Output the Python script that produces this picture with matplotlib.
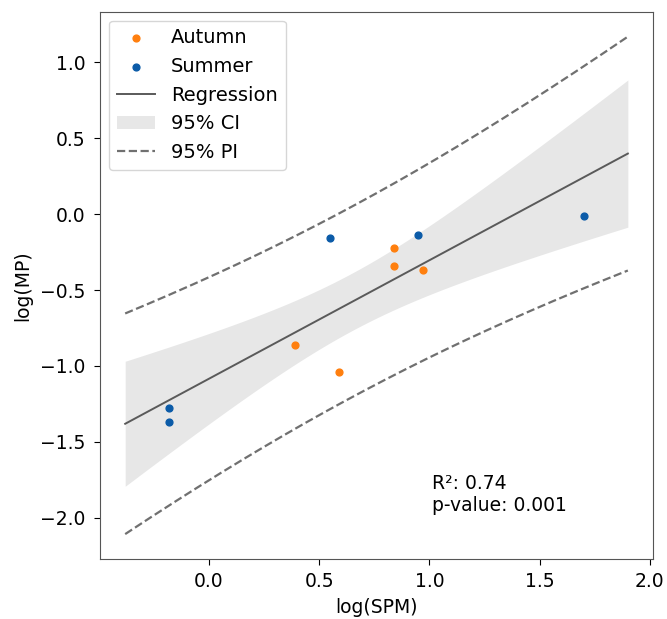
import numpy as np
import matplotlib
matplotlib.use("Agg")
import matplotlib.pyplot as plt

# data (log values)
autumn_x = [0.39, 0.59, 0.84, 0.84, 0.97]
autumn_y = [-0.86, -1.04, -0.22, -0.34, -0.37]
summer_x = [0.55, 0.95, 1.70, -0.18, -0.18]
summer_y = [-0.16, -0.14, -0.01, -1.28, -1.37]
r2_text = "R²: 0.74\np-value: 0.001"

T_975 = 2.306  # t quantile, df = 8

x = np.array(autumn_x + summer_x)
y = np.array(autumn_y + summer_y)
n = len(x)
slope, intercept = np.polyfit(x, y, 1)
resid = y - (slope * x + intercept)
s = np.std(resid, ddof=1)
sxx = np.sum((x - x.mean()) ** 2)

xs = np.linspace(x.min() - 0.2, x.max() + 0.2, 200)
ys = slope * xs + intercept
se_fit = s * np.sqrt(1 / n + (xs - x.mean()) ** 2 / sxx)
se_pred = s * np.sqrt(1 + 1 / n + (xs - x.mean()) ** 2 / sxx)

plt.rcParams['font.size'] = 13.5
fig = plt.figure(figsize=(6.67, 6.19), dpi=100)
ax = fig.add_axes([0.150, 0.097, 0.829, 0.884])

ax.scatter(autumn_x, autumn_y, color='#ff7f0e', s=24, zorder=3, label='Autumn')
ax.scatter(summer_x, summer_y, color='#0b5ba8', s=24, zorder=3, label='Summer')
ax.plot(xs, ys, color='#5a5a5a', lw=1.4, label='Regression')
ax.fill_between(xs, ys - T_975 * se_fit, ys + T_975 * se_fit,
                color='#b0b0b0', alpha=0.3, lw=0, label='95% CI')
ax.plot(xs, ys + T_975 * se_pred, color='#707070', ls='--', lw=1.6, label='95% PI')
ax.plot(xs, ys - T_975 * se_pred, color='#707070', ls='--', lw=1.6)

ax.text(1.01, -1.85, r2_text, va='center', ha='left')

ax.tick_params(axis='y', length=4.5, pad=6)
ax.tick_params(axis='x', length=4.5, pad=5)
for sp in ax.spines.values():
    sp.set_color('#555555')
ax.set_xlabel('log(SPM)', labelpad=5)
ax.set_ylabel('log(MP)', labelpad=6)
ax.legend(loc='upper left', fontsize=14, borderaxespad=0.45)

fig.savefig('out.png', dpi=100)
